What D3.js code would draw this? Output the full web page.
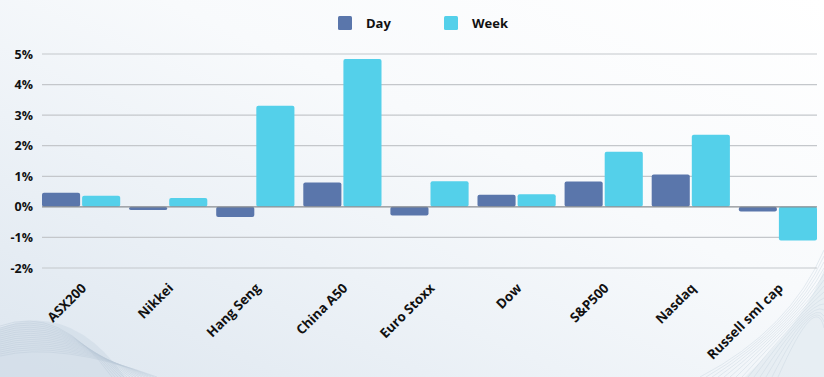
<!DOCTYPE html>
<html>
<head>
<meta charset="utf-8">
<script src="https://cdn.jsdelivr.net/npm/d3@7"></script>
<style>
  html, body { margin: 0; padding: 0; background: #ffffff; }
  svg { display: block; font-family: "Open Sans", "DejaVu Sans", sans-serif; }
</style>
</head>
<body>
<svg id="chart" width="824" height="377"></svg>
<script>
const categories = ["ASX200", "Nikkei", "Hang Seng", "China A50", "Euro Stoxx", "Dow", "S&P500", "Nasdaq", "Russell sml cap"];
const seriesNames = ["Day", "Week"];
const dayValues  = [0.46, -0.10, -0.33, 0.80, -0.28, 0.40, 0.83, 1.06, -0.15];
const weekValues = [0.36, 0.29, 3.31, 4.84, 0.84, 0.41, 1.80, 2.36, -1.10];
const yTicks = [-2, -1, 0, 1, 2, 3, 4, 5];
const colors = ["#5a76ab", "#54d0ea"];

const W = 824, H = 377;
const svg = d3.select("#chart");

// background
const defs = svg.append("defs");
const bg = defs.append("linearGradient").attr("id", "bg").attr("x1", "0").attr("y1", "1").attr("x2", "1").attr("y2", "0");
bg.append("stop").attr("offset", "0%").attr("stop-color", "#dde6ef");
bg.append("stop").attr("offset", "35%").attr("stop-color", "#edf2f7");
bg.append("stop").attr("offset", "60%").attr("stop-color", "#f8fafc");
bg.append("stop").attr("offset", "100%").attr("stop-color", "#ffffff");
svg.append("rect").attr("width", W).attr("height", H).attr("fill", "url(#bg)");

// decorative swooshes
const deco = svg.append("g").attr("fill", "none");
deco.append("path").attr("d", "M0,328 Q70,300 125,377 L0,377 Z").attr("fill", "#cfdbe6").attr("opacity", 0.6);
for (let i = 0; i < 16; i++) {
  deco.append("path")
    .attr("d", `M0,${326 + i * 2} Q60,${304 + i * 2.5} ${112 + i * 3},${377}`)
    .attr("stroke", "#b9c9d8").attr("stroke-opacity", 0.5).attr("stroke-width", 0.8);
}
deco.append("path").attr("d", "M745,377 Q805,320 824,270 L824,377 Z").attr("fill", "#e1e9f0").attr("opacity", 0.7);
for (let i = 0; i < 14; i++) {
  deco.append("path")
    .attr("d", `M${700 + i * 6},377 Q${790 + i * 2},${330 - i * 3} 824,${250 + i * 6}`)
    .attr("stroke", "#cbd7e2").attr("stroke-opacity", 0.6).attr("stroke-width", 0.8);
}

const left = 42, right = 817;
const y = d3.scaleLinear().domain([-2, 5]).range([268, 54]);
const x0 = d3.scaleBand().domain(categories).range([left, right]).paddingInner(0.102).paddingOuter(0);
const x1 = d3.scaleBand().domain(seriesNames).range([0, x0.bandwidth()]).paddingInner(0.05);

// gridlines
const grid = svg.append("g");
grid.selectAll("line").data(yTicks.filter(t => t !== 0)).join("line")
  .attr("x1", left).attr("x2", right)
  .attr("y1", d => y(d)).attr("y2", d => y(d))
  .attr("stroke", "#c4c7cb").attr("stroke-width", 1.2);

// y labels
const yAxis = d3.axisLeft(y).tickValues(yTicks).tickSize(0).tickPadding(0).tickFormat(d => d + "%");
svg.append("g").attr("transform", `translate(33,0)`).call(yAxis)
  .call(g => g.select(".domain").remove())
  .selectAll("text")
  .attr("font-family", "'Open Sans', sans-serif")
  .attr("font-weight", 700).attr("font-size", 12.5).attr("fill", "#111")
  .attr("text-anchor", "end");

// bars
const data = categories.map((c, i) => ({ cat: c, vals: [dayValues[i], weekValues[i]] }));
const groups = svg.append("g").selectAll("g").data(data).join("g")
  .attr("transform", d => `translate(${x0(d.cat)},0)`);
groups.selectAll("rect").data(d => d.vals.map((v, j) => ({ s: seriesNames[j], v, j }))).join("rect")
  .attr("x", d => x1(d.s))
  .attr("width", x1.bandwidth())
  .attr("y", d => Math.min(y(d.v), y(0)))
  .attr("height", d => Math.abs(y(d.v) - y(0)))
  .attr("rx", 2).attr("ry", 2)
  .attr("fill", d => colors[d.j]);

// zero line
svg.append("line").attr("x1", left).attr("x2", right)
  .attr("y1", y(0)).attr("y2", y(0))
  .attr("stroke", "#8a8d91").attr("stroke-width", 1.2);

// x labels
svg.append("g").selectAll("text").data(categories).join("text")
  .attr("transform", d => `translate(${x0(d) + x0.bandwidth() / 2 + 6},289) rotate(-45)`)
  .attr("text-anchor", "end")
  .attr("font-family", "'Open Sans', sans-serif")
  .attr("font-weight", 700).attr("font-size", 13.3).attr("fill", "#111")
  .text(d => d);

// legend
const legendX = [338, 444];
const leg = svg.append("g").selectAll("g").data(seriesNames).join("g")
  .attr("transform", (d, i) => `translate(${legendX[i]},16)`);
leg.append("rect").attr("width", 14).attr("height", 14).attr("rx", 1.5).attr("fill", (d, i) => colors[i]);
leg.append("text").attr("x", 28).attr("y", 11.5)
  .attr("font-family", "'Open Sans', sans-serif")
  .attr("font-weight", 700).attr("font-size", 13).attr("fill", "#111")
  .text(d => d);
</script>
</body>
</html>
